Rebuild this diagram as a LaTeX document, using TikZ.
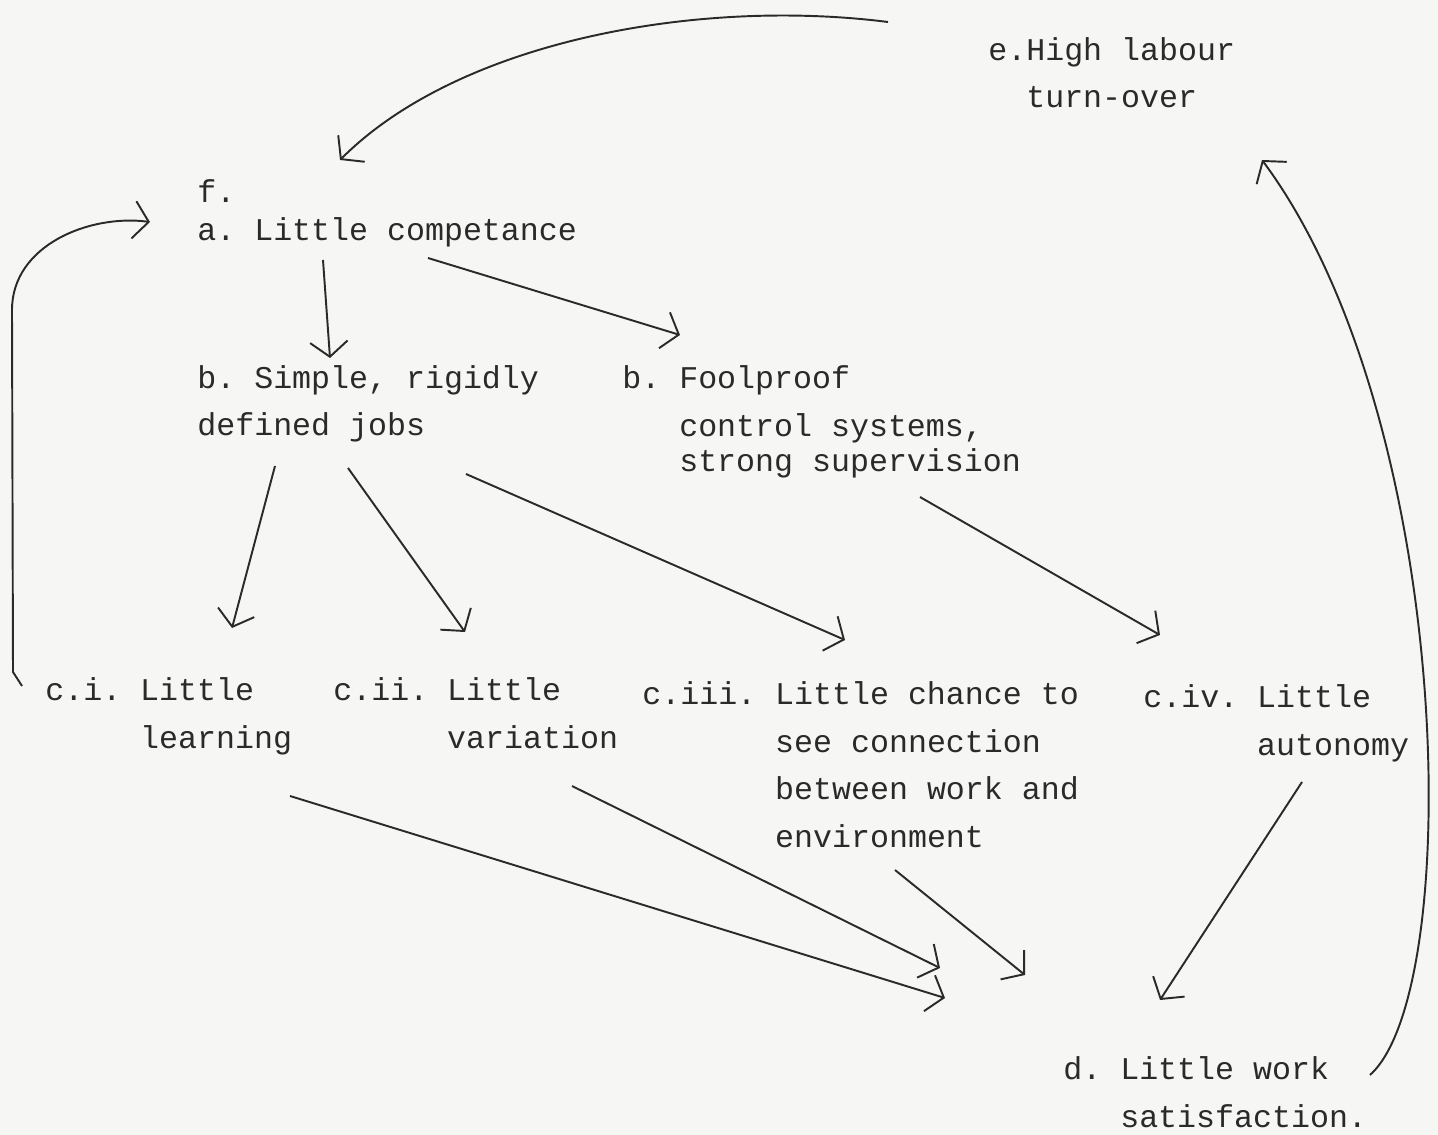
\documentclass[tikz,border=0pt]{standalone}
\usepackage{fontspec}
\setmonofont{Liberation Mono}
\usepackage{tikz}
\usetikzlibrary{arrows.meta}
\definecolor{paper}{HTML}{F6F6F4}
\definecolor{ink}{HTML}{2A2A2A}
\tikzset{
  typed/.style ={font=\ttfamily\fontsize{18}{27}\selectfont, text=ink,
                 anchor=base west, inner sep=0pt, align=left},
  hand/.style  ={draw=ink, line width=1.1pt,
                 -{Straight Barb[length=3mm,width=7.5mm]}},
}
\begin{document}
\begin{tikzpicture}[x=0.02cm, y=-0.02cm]
    % paper
    \fill[paper] (0,0) rectangle (1438,1135);
    \useasboundingbox (0,0) rectangle (1438,1135);
    % typed boxes
    \node[typed] (turnover) at (988,108) {e.High labour\\\phantom{e.}turn-over};
    \node[typed] (f)      at (197,203) {f.};
    \node[typed] (comp)   at (197,241) {a. Little competance};
    \node[typed] (simple) at (197,436) {b. Simple, rigidly\\defined jobs};
    \node[typed] (fool)   at (622,472) {b. Foolproof\\\phantom{b. }control systems,\\[-6.6pt]\phantom{b. }strong supervision};
    \node[typed] (learn)  at (45,748)  {c.i. Little\\\phantom{c.i. }learning};
    \node[typed] (vari)   at (333,748) {c.ii. Little\\\phantom{c.ii. }variation};
    \node[typed] (chance) at (642,847) {c.iii. Little chance to\\\phantom{c.iii. }see connection\\\phantom{c.iii. }between work and\\\phantom{c.iii. }environment};
    \node[typed] (auton)  at (1143,755) {c.iv. Little\\\phantom{c.iv. }autonomy};
    \node[typed] (satis)  at (1063,1127) {d. Little work\\\phantom{d. }satisfaction.};
    % arrow ends
    \coordinate (e-out) at (888,22);   \coordinate (f-in)  at (340,160);
    \coordinate (ci-out) at (22,686);  \coordinate (a-in)  at (150,222);
    \coordinate (a-out1) at (323,260); \coordinate (b-in1) at (330,358);
    \coordinate (a-out2) at (428,258); \coordinate (b-in2) at (680,335);
    \coordinate (b-out1) at (275,466); \coordinate (ci-in)  at (232,628);
    \coordinate (b-out2) at (348,468); \coordinate (cii-in) at (465,632);
    \coordinate (b-out3) at (466,474); \coordinate (ciii-in) at (845,640);
    \coordinate (fp-out) at (920,497); \coordinate (civ-in) at (1160,635);
    \coordinate (ci-out2) at (290,796);  \coordinate (d-in1) at (945,998);
    \coordinate (cii-out) at (572,786);  \coordinate (d-in2) at (940,968);
    \coordinate (ciii-out) at (895,870); \coordinate (d-in3) at (1025,975);
    \coordinate (civ-out) at (1302,782); \coordinate (d-in4) at (1160,1000);
    \coordinate (d-out) at (1370,1075);  \coordinate (e-in) at (1262,160);
    % feedback loops
    \draw[hand] (e-out) .. controls (700,-2) and (460,40) .. (f-in);
    \draw[hand] (ci-out) -- (13,672) -- (12,310) .. controls (12,245) and (90,214) .. (a-in);
    \draw[hand] (d-out) .. controls (1465,990) and (1455,420) .. (e-in);
    % straight links
    \draw[hand] (a-out1) -- (b-in1);
    \draw[hand] (a-out2) -- (b-in2);
    \draw[hand] (b-out1) -- (ci-in);
    \draw[hand] (b-out2) -- (cii-in);
    \draw[hand] (b-out3) -- (ciii-in);
    \draw[hand] (fp-out) -- (civ-in);
    \draw[hand] (ci-out2) -- (d-in1);
    \draw[hand] (cii-out) -- (d-in2);
    \draw[hand] (ciii-out) -- (d-in3);
    \draw[hand] (civ-out) -- (d-in4);
\end{tikzpicture}
\end{document}
